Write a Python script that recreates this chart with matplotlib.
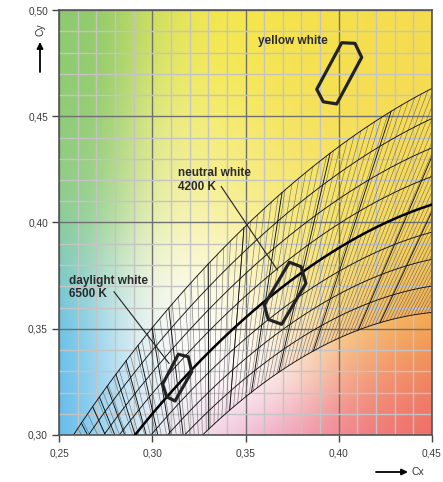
import numpy as np
import matplotlib
matplotlib.use("Agg")
import matplotlib.pyplot as plt
from matplotlib.ticker import MultipleLocator, FuncFormatter

plt.rcParams['font.family'] = ['Liberation Sans', 'DejaVu Sans']

# colour temperatures (K) of the darker isotemperature lines
iso_cct = [2800, 3000, 3500, 4000, 4500, 5000, 5600, 6500, 7000, 7500, 8000,
           8500, 9000, 9500, 10000, 11000, 12000, 13000, 14000, 15000, 17000, 20000]
# distance of the side curves from the planckian locus (Duv)
duv_steps = [-0.02, -0.015, -0.01, -0.005, 0.005, 0.01, 0.015, 0.02]
# fine hatch lines, every few mired
hatch_mired = np.arange(40, 480, 4)

# tolerance fields (x, y corners)
yellow_x = [0.4016, 0.4087, 0.4123, 0.3989, 0.3917, 0.3882]
yellow_y = [0.4846, 0.4843, 0.4777, 0.4558, 0.4568, 0.4627]
neutral_x = [0.3735, 0.3798, 0.3824, 0.3694, 0.3622, 0.3601]
neutral_y = [0.3813, 0.3792, 0.3714, 0.3521, 0.3544, 0.3612]
daylight_x = [0.3140, 0.3193, 0.3212, 0.3122, 0.3077, 0.3056]
daylight_y = [0.3380, 0.3368, 0.3298, 0.3160, 0.3180, 0.3240]

label_text = ["yellow white", "neutral white\n4200 K", "daylight white\n6500 K"]
label_pos = [(0.3567, 0.4854), (0.3138, 0.4200), (0.2554, 0.3695)]
leader_lines = [((0.3370, 0.4169), (0.3671, 0.3776)),
                ((0.2795, 0.3674), (0.3090, 0.3337))]

# background colours, rows from y=0.30 up to 0.50, columns x=0.25..0.45
bg_rows = [
    ['#5cb8ec', '#a4d6f0', '#e2eef6', '#f4dcea', '#f0b4d4', '#f09cb8', '#f08494', '#f0767c', '#ee6c66'],
    ['#5ebbea', '#a8d8f0', '#eef6f8', '#fcf8fa', '#ffffff', '#fae2e0', '#f4a890', '#f49070', '#f08060'],
    ['#62c0e8', '#acdcf0', '#f4f8f6', '#ffffff', '#fdfaee', '#fbeccc', '#f8d08a', '#f5b464', '#f4a050'],
    ['#74c6c8', '#b8e0d0', '#f4f6dc', '#fdfbe4', '#fbf6cc', '#f8ec98', '#f6de78', '#f5cc60', '#f4bc54'],
    ['#88cc98', '#a4d6a0', '#eef2bc', '#f8f4b0', '#f8f0a0', '#f7ea80', '#f6e46c', '#f6dc62', '#f5d45c'],
    ['#8ecc84', '#9ed286', '#e6ec98', '#f6f094', '#f6ec82', '#f6e670', '#f6e264', '#f6dc5e', '#f6d85a'],
    ['#90cc76', '#98ce76', '#e2ea88', '#f5ee78', '#f5ea6a', '#f6e460', '#f6e05a', '#f6dc58', '#f6da56'],
    ['#8fcb72', '#94cc6e', '#d6e46c', '#f4ea5c', '#f5e852', '#f6e250', '#f6e04e', '#f6de4e', '#f6dc50'],
    ['#8ecb70', '#92ca6a', '#cfe060', '#f2e650', '#f5e64a', '#f6e24a', '#f6e04c', '#f6de4e', '#f5dc50'],
]


def planck_uv(T):
    # Krystek approximation of the planckian locus in CIE 1960 uv
    T = np.asarray(T, dtype=float)
    u = (0.860117757 + 1.54118254e-4 * T + 1.28641212e-7 * T**2) / \
        (1 + 8.42420235e-4 * T + 7.08145163e-7 * T**2)
    v = (0.317398726 + 4.22806245e-5 * T + 4.20481691e-8 * T**2) / \
        (1 - 2.89741816e-5 * T + 1.61456053e-7 * T**2)
    return u, v


def uv_to_xy(u, v):
    d = 2 * u - 8 * v + 4
    return 3 * u / d, 2 * v / d


def offset_point(T, duv):
    T = np.asarray(T, dtype=float)
    u, v = planck_uv(T)
    u2, v2 = planck_uv(T * 0.999)
    tu, tv = u2 - u, v2 - v
    n = np.hypot(tu, tv)
    tu, tv = tu / n, tv / n
    return uv_to_xy(u - tv * duv, v + tu * duv)


def main():
    fig = plt.figure(figsize=(4.43, 4.82), dpi=100)
    ax = fig.add_axes([59 / 443, 47 / 482, 373 / 443, 425 / 482])

    rgb = np.array([[matplotlib.colors.to_rgb(c) for c in row] for row in bg_rows])
    ax.imshow(rgb, origin='lower', extent=(0.2375, 0.4625, 0.2875, 0.5125),
              interpolation='bicubic', aspect='auto', zorder=0)

    ax.set_xlim(0.25, 0.45)
    ax.set_ylim(0.30, 0.50)

    ax.xaxis.set_major_locator(MultipleLocator(0.05))
    ax.yaxis.set_major_locator(MultipleLocator(0.05))
    ax.xaxis.set_minor_locator(MultipleLocator(0.01))
    ax.yaxis.set_minor_locator(MultipleLocator(0.01))
    ax.grid(which='minor', color='#c4c4c4', lw=1.0, zorder=1)
    ax.grid(which='major', color='#707070', lw=1.0, zorder=1)
    fmt = FuncFormatter(lambda v, p: f'{v:.2f}'.replace('.', ','))
    ax.xaxis.set_major_formatter(fmt)
    ax.yaxis.set_major_formatter(fmt)
    ax.tick_params(which='minor', length=0)
    ax.tick_params(which='major', length=5, width=1, color='#444444',
                   labelsize=7.3, labelcolor='#3a3a3a')
    ax.tick_params(axis='y', pad=3)
    ax.tick_params(axis='x', pad=5)
    for s in ax.spines.values():
        s.set_color('#555555')
        s.set_linewidth(1.2)

    # mesh around the planckian locus
    T_sweep = 1e6 / np.linspace(25, 500, 900)
    duv_span = np.linspace(min(duv_steps), max(duv_steps), 20)
    for m in hatch_mired:
        x, y = offset_point(np.full_like(duv_span, 1e6 / m), duv_span)
        ax.plot(x, y, color='#555555', lw=0.45, alpha=0.75, zorder=2)
    for duv in duv_steps:
        x, y = offset_point(T_sweep, duv)
        ax.plot(x, y, color='#111111', lw=0.65, zorder=2)
    for T in iso_cct:
        x, y = offset_point(np.full_like(duv_span, T), duv_span)
        ax.plot(x, y, color='#111111', lw=0.65, zorder=2)
    x, y = offset_point(T_sweep, 0.0)
    ax.plot(x, y, color='black', lw=1.8, zorder=3)

    for xs, ys in [(yellow_x, yellow_y), (neutral_x, neutral_y), (daylight_x, daylight_y)]:
        ax.fill(xs, ys, facecolor='none', edgecolor='#222222', lw=2.3,
                joinstyle='round', zorder=4)

    for (a, b) in leader_lines:
        ax.plot([a[0], b[0]], [a[1], b[1]], color='#222222', lw=0.8, zorder=4)
    for txt, (tx, ty) in zip(label_text, label_pos):
        ax.text(tx, ty, txt, fontsize=8.5, fontweight='bold', color='#2b2b2b',
                ha='left', va='center', linespacing=1.15, zorder=5)

    # axis names with arrows
    fig.text(40 / 443, 1 - 30 / 482, 'Cy', rotation=90, fontsize=7.5,
             ha='center', va='center', color='#333333')
    fig.text(418 / 443, 1 - 472 / 482, 'Cx', fontsize=7.5,
             ha='center', va='center', color='#333333')
    ax.annotate('', xy=(40 / 443, 1 - 42 / 482), xytext=(40 / 443, 1 - 72 / 482),
                xycoords='figure fraction', textcoords='figure fraction',
                arrowprops=dict(arrowstyle='-|>', color='black', lw=1.3,
                                mutation_scale=9, shrinkA=0, shrinkB=0))
    ax.annotate('', xy=(408 / 443, 1 - 472 / 482), xytext=(376 / 443, 1 - 472 / 482),
                xycoords='figure fraction', textcoords='figure fraction',
                arrowprops=dict(arrowstyle='-|>', color='black', lw=1.3,
                                mutation_scale=9, shrinkA=0, shrinkB=0))

    fig.savefig('out.png', dpi=100)


if __name__ == "__main__":
    main()
